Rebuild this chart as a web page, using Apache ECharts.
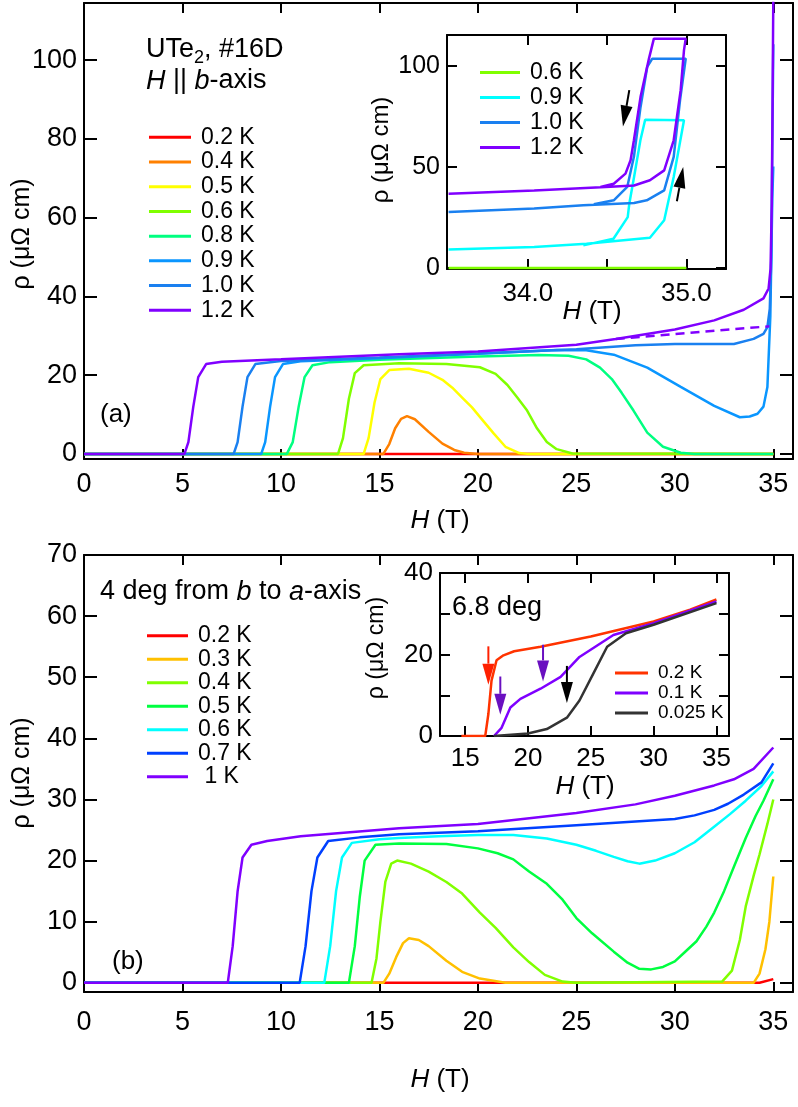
<!DOCTYPE html>
<html>
<head>
<meta charset="utf-8">
<title>UTe2 resistivity vs field</title>
<script src="https://cdn.jsdelivr.net/npm/echarts@6/dist/echarts.min.js"></script>
<style>
  html, body { margin: 0; padding: 0; background: #fff; }
  #chart { width: 798px; height: 1107px; }
</style>
</head>
<body>
<div id="chart"></div>
<script>
// ---- panel (a): H || b-axis, [H (T), rho (uOhm cm)] ----
var namesA = ['0.2 K', '0.4 K', '0.5 K', '0.6 K', '0.8 K', '0.9 K', '1.0 K', '1.2 K'];
var a02 = [[0, 0], [35, 0]];
var a04 = [[0, 0], [15.2, 0], [15.5, 2.5], [15.8, 6.5], [16.1, 8.9], [16.4, 9.6], [16.8, 8.8], [17.5, 5.6], [18.2, 2.6], [18.8, 1.0], [19.3, 0.3], [20, 0], [35, 0]];
var a05 = [[0, 0], [14.2, 0], [14.45, 4], [14.75, 13], [15.05, 19], [15.5, 21.3], [16.5, 21.6], [17.5, 20.6], [18.2, 18.8], [18.7, 16.8], [19.2, 14.3], [19.7, 11.8], [20.3, 8.2], [20.8, 5.2], [21.4, 1.8], [22.1, 0.2], [22.5, 0], [35, 0]];
var a06 = [[0, 0], [12.9, 0], [13.15, 4], [13.45, 14], [13.75, 20.5], [14.2, 22.5], [16, 23], [18.4, 22.8], [20.1, 22], [20.9, 20.3], [21.5, 17.5], [22, 14.3], [22.5, 11], [23, 6.5], [23.5, 3], [24, 1.2], [24.8, 0.1], [35, 0]];
var a08 = [[0, 0], [10.3, 0], [10.6, 3], [10.9, 12], [11.2, 19.5], [11.6, 22.5], [12.5, 23.3], [15, 23.9], [20, 24.7], [23.1, 25.1], [24.6, 24.9], [25.5, 24], [26.2, 21.9], [26.8, 19], [27.3, 15.5], [27.9, 11], [28.6, 5.4], [29.4, 1.8], [30.3, 0.3], [31, 0], [35, 0]];
var a09 = [[0, 0], [9.0, 0], [9.2, 3], [9.45, 12], [9.7, 19.5], [10.1, 22.8], [11, 23.5], [15, 24.3], [20, 25.4], [24, 26.4], [25.5, 26.3], [26.9, 25.2], [28.6, 21.9], [30.3, 17], [32, 12.2], [33.3, 9.3], [33.8, 9.5], [34.2, 10.2], [34.5, 12], [34.7, 17], [34.85, 35], [34.95, 65], [35, 73]];
var a10 = [[0, 0], [7.6, 0], [7.8, 3], [8.05, 12], [8.3, 19.5], [8.7, 22.8], [10, 23.6], [15, 24.5], [20, 25.5], [25, 26.6], [28, 27.6], [30, 27.9], [33, 27.9], [34, 29.2], [34.5, 30.5], [34.7, 32.2], [34.82, 36.8], [34.9, 50], [34.96, 83], [35, 104]];
var a12 = [[0, 0], [5.1, 0], [5.3, 3], [5.55, 12], [5.8, 19.5], [6.2, 22.8], [7, 23.4], [10, 24], [16, 25.3], [20, 26], [25, 27.7], [27, 29.2], [30, 31.6], [32, 33.9], [33.5, 36.6], [34.5, 39.5], [34.76, 42], [34.86, 47], [34.92, 63], [34.96, 88], [35, 116]];
var a12Extrap = [[27, 29.2], [34.8, 32.4]];
var colorsA = ['#ff0000', '#ff8000', '#ffff00', '#80ff00', '#00ff80', '#0a96ff', '#1a80f0', '#8000ff'];

// inset of (a): hysteresis near 35 T
var namesAi = ['0.6 K', '0.9 K', '1.0 K', '1.2 K'];
var ai06 = [[33.5, 0], [35, 0]];
var ai09 = [[33.5, 9.1], [34.04, 10.4], [34.37, 12], [34.77, 15], [34.86, 23.6], [34.92, 45], [34.985, 73.1], [34.74, 73.4], [34.71, 63.2], [34.67, 45], [34.64, 31.8], [34.63, 25.2], [34.54, 14.5], [34.35, 11.2]];
var ai10 = [[33.5, 27.7], [34.04, 29.4], [34.35, 31], [34.67, 32.2], [34.75, 33.5], [34.86, 38.4], [34.92, 55], [34.96, 83], [34.996, 103.6], [34.785, 103.6], [34.753, 99.5], [34.711, 79.7], [34.669, 55], [34.627, 40.1], [34.542, 33.5], [34.416, 31.5]];
var ai12 = [[33.5, 36.8], [34.04, 38.4], [34.46, 40], [34.67, 40.8], [34.77, 43.4], [34.86, 48.3], [34.92, 63.2], [34.964, 88], [34.985, 107.8], [34.996, 113.5], [34.795, 113.5], [34.764, 103.6], [34.711, 84.7], [34.669, 63.2], [34.648, 53.3], [34.616, 46.7], [34.542, 41.7], [34.458, 40.1]];
var colorsAi = ['#80ff00', '#00ffff', '#1a80f0', '#8000ff'];
// arrows [x tail, y tail, x tip, y tip]
var arrowsAi = [[34.64, 88, 34.6, 70], [34.94, 33, 34.98, 50]];
var arrowColorsAi = ['#000', '#000'];

// ---- panel (b): 4 deg from b to a-axis ----
var namesB = ['0.2 K', '0.3 K', '0.4 K', '0.5 K', '0.6 K', '0.7 K', ' 1 K'];
var b02 = [[0, 0], [34.3, 0], [35, 0.6]];
var b03 = [[0, 0], [15.2, 0], [15.5, 1.5], [15.85, 4.2], [16.2, 6.5], [16.5, 7.3], [17, 7], [17.5, 6], [18.4, 3.6], [19.2, 1.8], [20.1, 0.7], [21.4, 0], [34, 0], [34.3, 1.5], [34.6, 5.5], [34.8, 10], [35, 17.4]];
var b04 = [[0, 0], [14.6, 0], [14.85, 4], [15.05, 10], [15.3, 16.5], [15.6, 19.5], [15.9, 20], [16.6, 19.5], [17.5, 18.2], [18.4, 16.5], [19.2, 14.6], [20.1, 11.5], [20.9, 9], [21.8, 5.8], [22.6, 3.4], [23.4, 1.3], [24.3, 0.2], [25, 0], [32.4, 0.2], [32.9, 2], [33.3, 7], [33.6, 12.5], [34, 17.5], [34.3, 21], [34.7, 26], [35, 30]];
var b05 = [[0, 0], [13.45, 0], [13.75, 6], [14, 14], [14.25, 20], [14.8, 22.6], [16, 22.8], [18.4, 22.7], [20, 22], [21, 21.2], [21.8, 20.2], [22.6, 18.2], [23.5, 16.2], [24.3, 13.6], [25, 10.6], [25.8, 8.1], [26.9, 5.1], [27.6, 3.3], [28.2, 2.3], [28.8, 2.2], [29.4, 2.6], [30, 3.5], [30.5, 5], [31.1, 6.8], [31.6, 9.2], [32, 11.5], [32.5, 15], [33, 19], [33.6, 23.7], [34.1, 27.3], [34.5, 29.8], [35, 33.3]];
var b06 = [[0, 0], [12.2, 0], [12.5, 6], [12.8, 15], [13.1, 20.5], [13.6, 22.9], [15, 23.5], [16, 23.7], [18, 24], [20, 24.2], [21.8, 24.2], [23.5, 23.6], [25, 22.6], [26, 21.6], [26.9, 20.6], [27.6, 19.9], [28.2, 19.5], [29, 20], [30, 21.2], [31, 23], [31.9, 25.3], [32.8, 27.6], [33.6, 29.8], [34.4, 32.2], [35, 34.6]];
var b07 = [[0, 0], [10.95, 0], [11.25, 6], [11.55, 15], [11.85, 20.5], [12.4, 23.2], [14, 23.8], [16, 24.3], [20, 24.8], [25, 25.8], [30, 26.8], [31, 27.4], [32, 28.3], [32.7, 29.3], [33.5, 30.8], [34.4, 32.8], [35, 35.9]];
var b10 = [[0, 0], [7.3, 0], [7.55, 6], [7.8, 15], [8.05, 20.5], [8.5, 22.6], [9.3, 23.2], [11, 24], [16, 25.3], [20, 26], [25, 27.8], [28, 29.2], [30, 30.6], [32, 32.3], [33, 33.3], [34, 35], [35, 38.5]];
var colorsB = ['#ff0000', '#ffc000', '#80ff00', '#00ff40', '#00ffff', '#0040ff', '#8000ff'];

// inset of (b): 6.8 deg
var namesBi = ['0.2 K', '0.1 K', '0.025 K'];
var bi02 = [[14.7, 0], [16.6, 0], [16.85, 5.4], [17.1, 13.6], [17.5, 18.6], [18.05, 19.8], [18.9, 20.8], [21, 21.9], [25, 24.4], [30, 28.1], [32.9, 31], [35, 33.5]];
var bi01 = [[17.3, 0], [17.9, 2], [18.6, 7], [19.4, 9.1], [21, 11.6], [22.6, 14.5], [24.1, 19.4], [26.8, 24.8], [30, 27.7], [35, 33]];
var bi0025 = [[17.3, 0], [20, 0.6], [21.5, 1.7], [23.1, 4.5], [24.1, 8.7], [25.2, 15.3], [26.3, 21.9], [27.8, 25.2], [30, 27.3], [35, 32.6]];
var colorsBi = ['#ff3300', '#7f00ff', '#333333'];
var arrowsBi = [[16.85, 22, 16.85, 12.6], [17.8, 14.6, 17.8, 5.2], [21.2, 22.4, 21.2, 13.4], [23.1, 17.2, 23.1, 8.1]];
var arrowColorsBi = ['#ff2000', '#6a10c0', '#6a10c0', '#000'];

// tick / label positions
var ticksMainX = [0, 5, 10, 15, 20, 25, 30, 35];
var ticksAY = [0, 20, 40, 60, 80, 100];
var ticksAiX = [34, 34.5, 35];
var labelsAiX = [34, 35];
var ticksAiY = [0, 50, 100];
var ticksBY = [0, 10, 20, 30, 40, 50, 60, 70];
var ticksBiX = [15, 20, 25, 30, 35];
var ticksBiY = [0, 10, 20, 30, 40];
var labelsBiY = [0, 20, 40];

var FONT = '"Liberation Sans", Arial, Helvetica, sans-serif';

function axisPair(dim, grid, min, max, ticks, labels, opt) {
  var base = {
    gridIndex: grid, type: 'value', min: min, max: max,
    axisLine: { onZero: false, lineStyle: { color: '#000', width: 2 } },
    axisTick: { inside: true, length: opt.tick, customValues: ticks, lineStyle: { color: '#000', width: 2 } },
    splitLine: { show: false }
  };
  var main = Object.assign({}, base, {
    position: dim === 'x' ? 'bottom' : 'left',
    axisLabel: {
      customValues: labels, margin: opt.margin, color: '#000',
      fontSize: opt.font, fontFamily: FONT, formatter: opt.fmt
    }
  });
  var other = Object.assign({}, base, {
    position: dim === 'x' ? 'top' : 'right',
    axisLabel: { show: false }
  });
  return [main, other];
}

var xAxes = [].concat(
  axisPair('x', 0, 0, 36, ticksMainX, ticksMainX, { tick: 10, margin: 12, font: 27 }),
  axisPair('x', 1, 33.49, 35.25, ticksAiX, labelsAiX, { tick: 10, margin: 12, font: 26, fmt: function (v) { return v.toFixed(1); } }),
  axisPair('x', 2, 0, 36, ticksMainX, ticksMainX, { tick: 10, margin: 17, font: 27 }),
  axisPair('x', 3, 13, 36, ticksBiX, ticksBiX, { tick: 10, margin: 10, font: 26 })
);
var yAxes = [].concat(
  axisPair('y', 0, -1.3, 114.5, ticksAY, ticksAY, { tick: 13, margin: 7, font: 27 }),
  axisPair('y', 1, -0.5, 115.3, ticksAiY, ticksAiY, { tick: 10, margin: 7, font: 25 }),
  axisPair('y', 2, -1.5, 70, ticksBY, ticksBY, { tick: 13, margin: 7, font: 27 }),
  axisPair('y', 3, 0, 40, ticksBiY, labelsBiY, { tick: 10, margin: 7, font: 26 })
);

function lineSeries(tag, name, data, color, axis, extra) {
  return Object.assign({
    type: 'line', name: tag + '|' + name, data: data,
    xAxisIndex: axis * 2, yAxisIndex: axis * 2,
    showSymbol: false, symbol: 'none', animation: false,
    lineStyle: { color: color, width: 2.5 }, itemStyle: { color: color }
  }, extra || {});
}

function arrowSeries(data, colors, axis) {
  return {
    type: 'custom', xAxisIndex: axis * 2, yAxisIndex: axis * 2, data: data, z: 10,
    animation: false, silent: true,
    renderItem: function (params, api) {
      var p1 = api.coord([api.value(0), api.value(1)]);
      var p2 = api.coord([api.value(2), api.value(3)]);
      var dx = p2[0] - p1[0], dy = p2[1] - p1[1];
      var len = Math.sqrt(dx * dx + dy * dy);
      var ux = dx / len, uy = dy / len;
      var hl = 21, hw = 6;
      var bx = p2[0] - ux * hl, by = p2[1] - uy * hl;
      var col = colors[params.dataIndex];
      return {
        type: 'group',
        children: [
          { type: 'line', shape: { x1: p1[0], y1: p1[1], x2: bx, y2: by }, style: { stroke: col, lineWidth: 2 } },
          { type: 'polygon', shape: { points: [[p2[0], p2[1]], [bx - uy * hw, by + ux * hw], [bx + uy * hw, by - ux * hw]] }, style: { fill: col } }
        ]
      };
    }
  };
}

var dataA = [a02, a04, a05, a06, a08, a09, a10, a12];
var dataAi = [ai06, ai09, ai10, ai12];
var dataB = [b02, b03, b04, b05, b06, b07, b10];
var dataBi = [bi02, bi01, bi0025];

var series = [];
dataA.forEach(function (d, i) { series.push(lineSeries('a', namesA[i], d, colorsA[i], 0)); });
series.push(lineSeries('a', 'extrap', a12Extrap, colorsA[7], 0, { lineStyle: { color: colorsA[7], width: 2.5, type: [9, 6] } }));
dataAi.forEach(function (d, i) { series.push(lineSeries('ai', namesAi[i], d, colorsAi[i], 1)); });
series.push(arrowSeries(arrowsAi, arrowColorsAi, 1));
dataB.forEach(function (d, i) { series.push(lineSeries('b', namesB[i], d, colorsB[i], 2)); });
dataBi.forEach(function (d, i) { series.push(lineSeries('bi', namesBi[i], d, colorsBi[i], 3)); });
series.push(arrowSeries(arrowsBi, arrowColorsBi, 3));

function legendFor(tag, names, left, top, w, font, rowH) {
  return {
    data: names.map(function (n) { return tag + '|' + n; }),
    orient: 'vertical', left: left, top: top, padding: 0,
    icon: 'rect', itemWidth: w, itemHeight: 3, itemGap: 0, selectedMode: false,
    formatter: function (n) { return n.split('|')[1]; },
    textStyle: { color: '#000', fontSize: font, fontFamily: FONT, lineHeight: rowH, padding: [0, 0, 0, 5] }
  };
}

function label(x, y, text, size, extra, rot) {
  return {
    type: 'text', x: x, y: y, silent: true, rotation: rot || 0,
    style: Object.assign({
      text: text, fill: '#000', fontSize: size, fontFamily: FONT,
      align: 'left', verticalAlign: 'middle'
    }, extra || {})
  };
}
var ital = function (size) { return { fontStyle: 'italic', fontSize: size, fontFamily: FONT, fill: '#000' }; };
var rhoName = 'ρ (μΩ cm)';
var UP = Math.PI / 2;

var option = {
  backgroundColor: '#fff',
  animation: false,
  grid: [
    { left: 84, top: 3, width: 709, height: 456 },
    { left: 447, top: 35, width: 279, height: 234 },
    { left: 84, top: 555, width: 709, height: 437 },
    { left: 440, top: 573, width: 289, height: 163 }
  ],
  xAxis: xAxes,
  yAxis: yAxes,
  legend: [
    legendFor('a', namesA, 149, 125, 42, 23, 24.7),
    legendFor('ai', namesAi, 480, 60, 40, 23, 25),
    legendFor('b', namesB, 147, 624, 41, 23, 23.5),
    legendFor('bi', namesBi, 615, 663, 33, 19, 20)
  ],
  graphic: [
    label(22, 234, rhoName, 25, { align: 'center' }, UP),
    label(381, 150, rhoName, 24, { align: 'center' }, UP),
    label(22, 773, rhoName, 25, { align: 'center' }, UP),
    label(377, 648, rhoName, 23, { align: 'center' }, UP),
    label(440, 521, '{i|H} (T)', 26, { align: 'center', rich: { i: ital(26) } }),
    label(592, 312, '{i|H} (T)', 26, { align: 'center', rich: { i: ital(26) } }),
    label(440, 1080, '{i|H} (T)', 26, { align: 'center', rich: { i: ital(26) } }),
    label(585, 787, '{i|H} (T)', 26, { align: 'center', rich: { i: ital(26) } }),
    label(146, 50, '{n|UTe}{s|2}{n|, #16D}', 27, {
      rich: {
        n: { fontSize: 27, fontFamily: FONT, fill: '#000' },
        s: { fontSize: 18, fontFamily: FONT, fill: '#000', verticalAlign: 'bottom', padding: [16, 0, 0, 0] }
      }
    }),
    label(146, 81, '{i|H} || {i|b}-axis', 27, { rich: { i: ital(27) } }),
    label(100, 415, '(a)', 26),
    label(100, 592, '4 deg from {i|b} to {i|a}-axis', 27, { rich: { i: ital(27) } }),
    label(112, 962, '(b)', 26),
    label(452, 608, '6.8 deg', 27)
  ],
  series: series
};

var chart = echarts.init(document.getElementById('chart'));
chart.setOption(option);
</script>
</body>
</html>
